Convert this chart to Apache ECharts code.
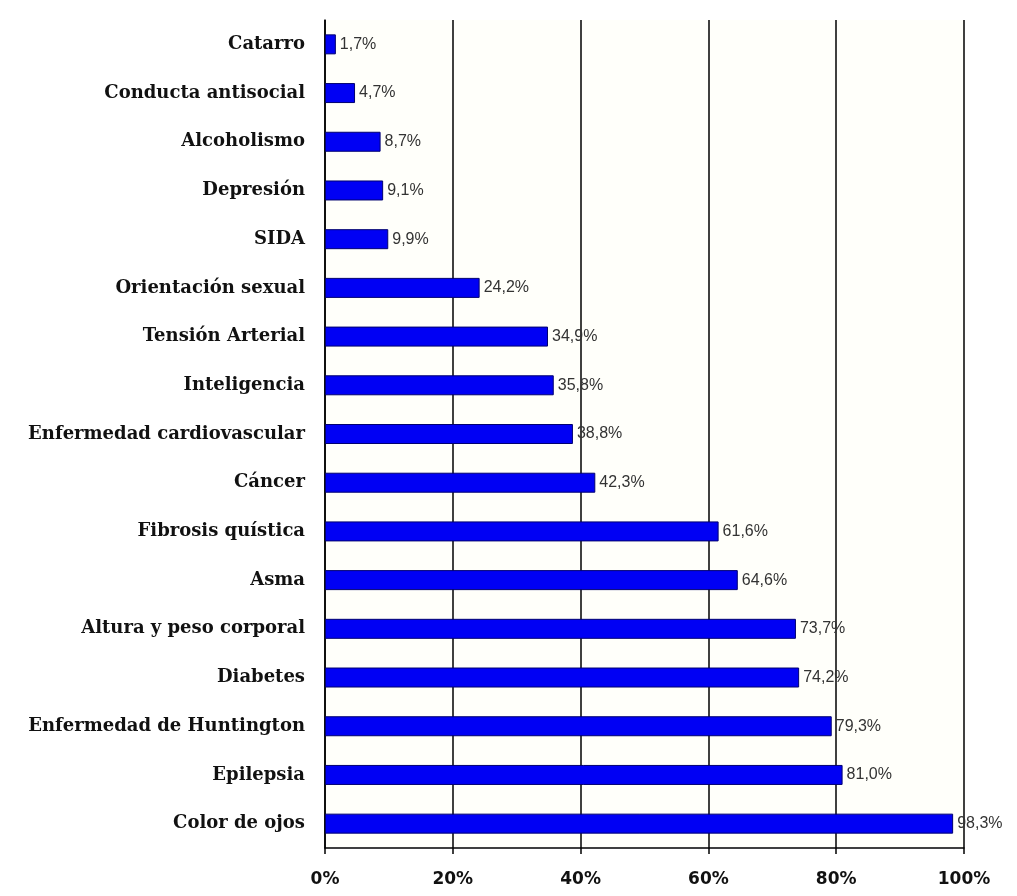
<!DOCTYPE html>
<html>
<head>
<meta charset="utf-8">
<script src="https://cdn.jsdelivr.net/npm/echarts@6/dist/echarts.min.js"></script>
<style>
  html, body { margin: 0; padding: 0; background: #ffffff; }
  #chart { width: 1017px; height: 896px; }
</style>
</head>
<body>
<div id="chart"></div>
<script>
const categories = [
  'Catarro', 'Conducta antisocial', 'Alcoholismo', 'Depresión', 'SIDA',
  'Orientación sexual', 'Tensión Arterial', 'Inteligencia',
  'Enfermedad cardiovascular', 'Cáncer', 'Fibrosis quística', 'Asma',
  'Altura y peso corporal', 'Diabetes', 'Enfermedad de Huntington',
  'Epilepsia', 'Color de ojos'
]
const values = [1.7, 4.7, 8.7, 9.1, 9.9, 24.2, 34.9, 35.8, 38.8, 42.3, 61.6, 64.6, 73.7, 74.2, 79.3, 81.0, 98.3]
const xTicks = [0, 20, 40, 60, 80, 100]

const myChart = echarts.init(document.getElementById('chart'))
const option = {
  backgroundColor: '#ffffff',
  animation: false,
  grid: {
    left: 325,
    right: 53,
    top: 20,
    bottom: 48,
    containLabel: false,
    show: true,
    backgroundColor: '#fffffa',
    borderWidth: 0
  },
  xAxis: {
    type: 'value',
    min: xTicks[0],
    max: xTicks[xTicks.length - 1],
    interval: 20,
    axisLine: { show: true, lineStyle: { color: '#000000', width: 1.5 } },
    axisTick: { show: true, length: 6, lineStyle: { color: '#000000', width: 1.5 } },
    axisLabel: {
      margin: 23,
      color: '#111111',
      fontFamily: 'DejaVu Sans',
      fontWeight: 'bold',
      fontSize: 17,
      formatter: (v) => v + '%'
    },
    splitLine: { show: true, lineStyle: { color: '#000000', width: 1.5 } }
  },
  yAxis: {
    type: 'category',
    inverse: true,
    data: categories,
    axisLine: { show: true, lineStyle: { color: '#000000', width: 1.5 } },
    axisTick: { show: false },
    axisLabel: {
      margin: 20,
      color: '#111111',
      fontFamily: 'DejaVu Serif',
      fontWeight: 'bold',
      fontSize: 18
    }
  },
  series: [
    {
      type: 'bar',
      data: values,
      barWidth: 20,
      itemStyle: {
        color: '#0000f4',
        borderColor: '#000070',
        borderWidth: 1
      },
      label: {
        show: true,
        position: 'right',
        distance: 4,
        color: '#333333',
        fontFamily: 'Liberation Sans',
        fontSize: 16,
        formatter: (p) => p.value.toFixed(1).replace('.', ',') + '%'
      }
    }
  ]
}
myChart.setOption(option)
</script>
</body>
</html>
